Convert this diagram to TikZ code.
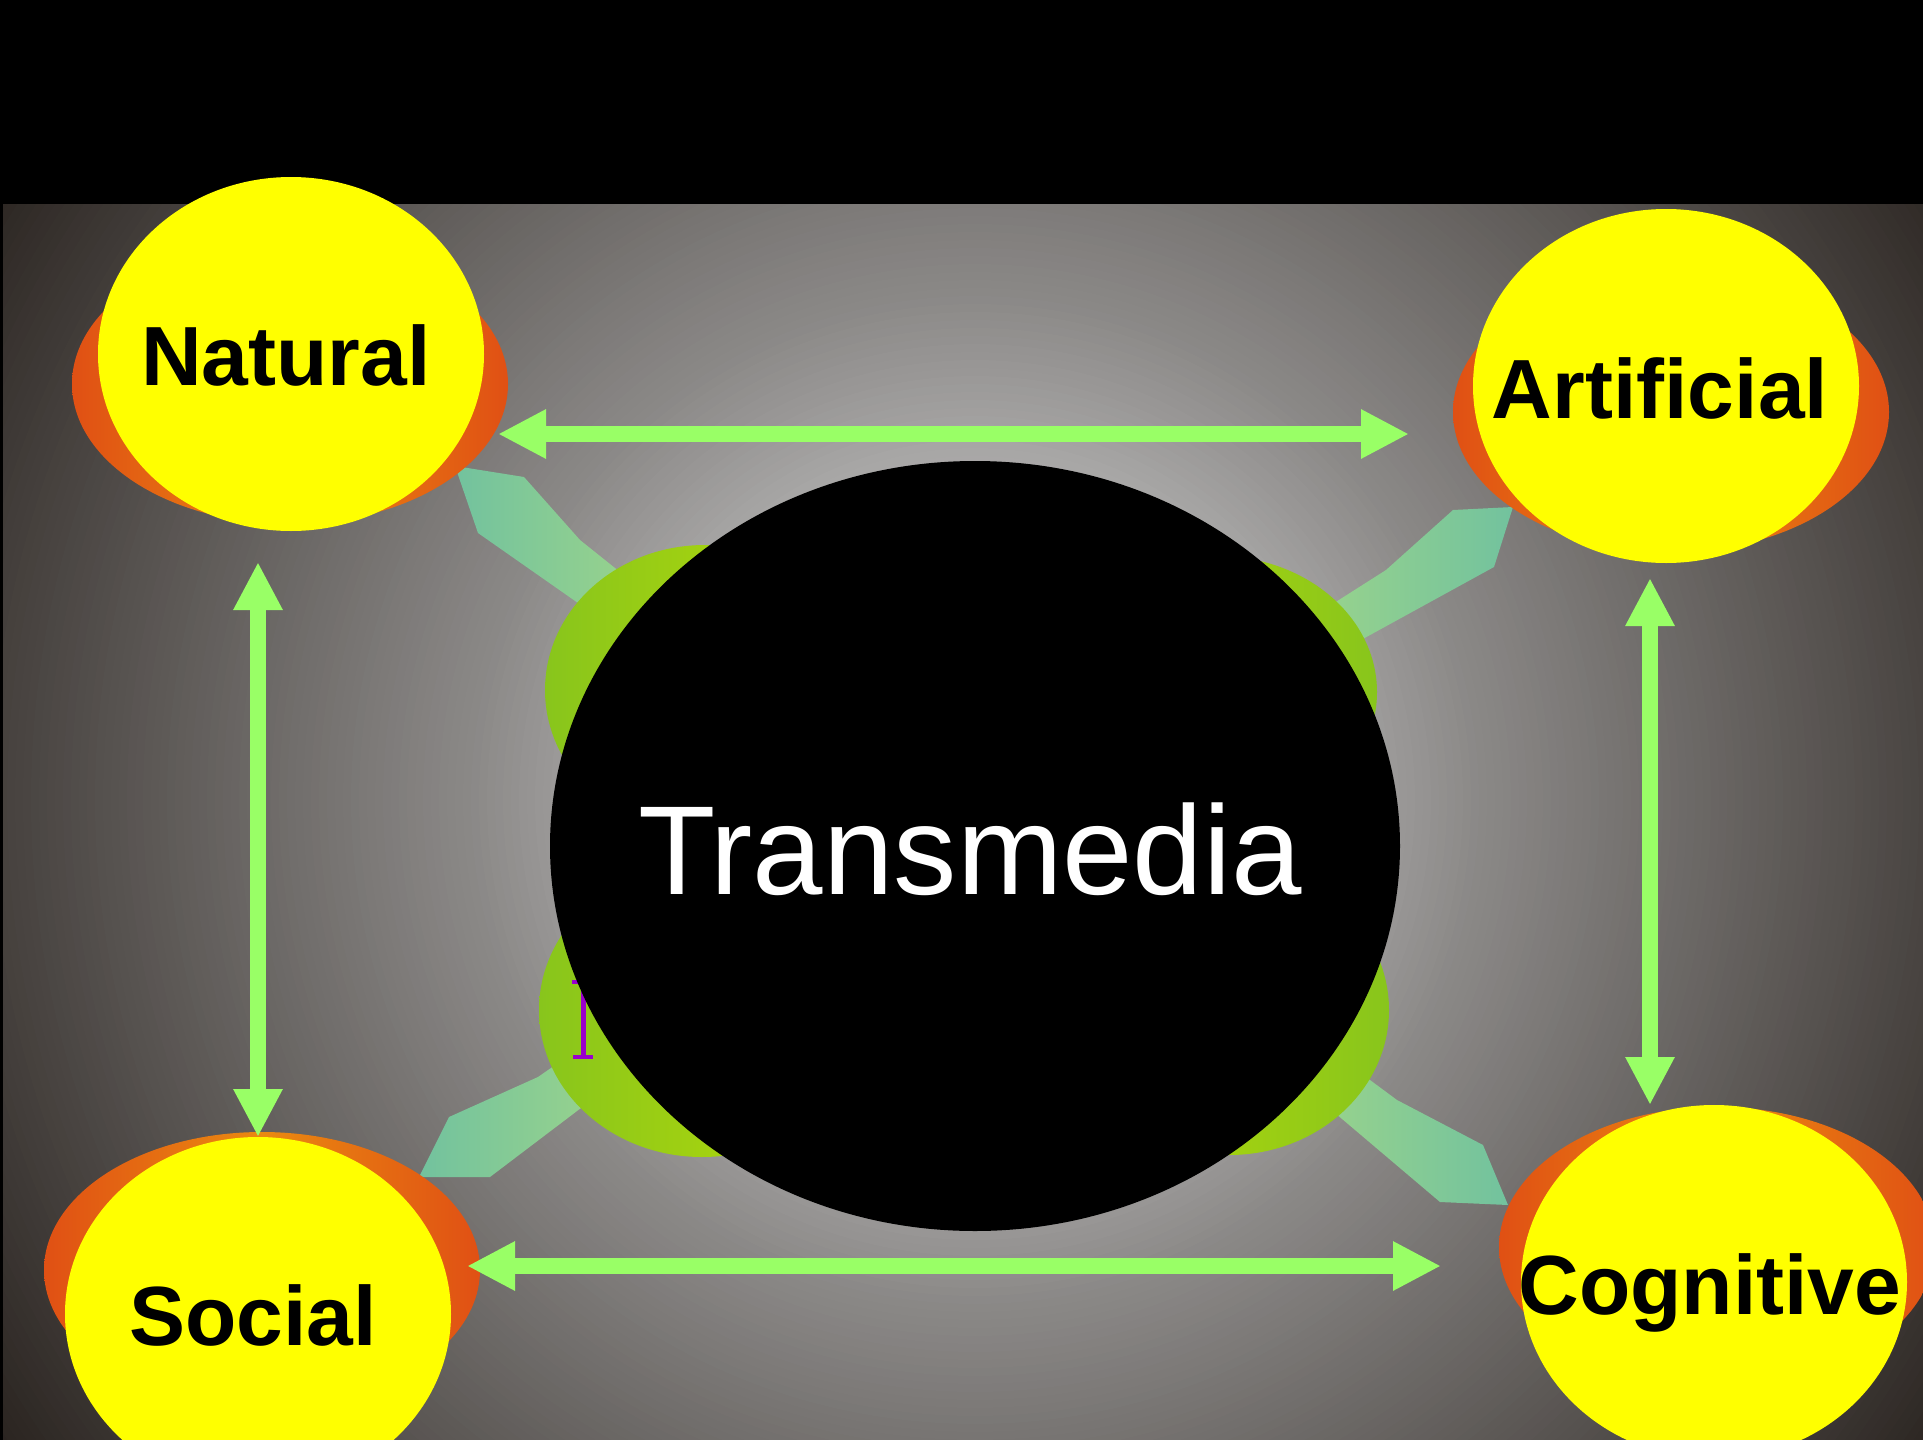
\documentclass[tikz,border=0pt]{standalone}
\usepackage{fontspec}
\setmainfont{Liberation Sans}
\usetikzlibrary{arrows.meta,shapes.geometric}

\definecolor{sunyellow}{RGB}{255,255,0}
\definecolor{arrowgreen}{RGB}{153,255,102}
\definecolor{bandteal}{RGB}{114,194,158}
\definecolor{bandlight}{RGB}{162,215,136}
\definecolor{blobdark}{RGB}{136,197,28}
\definecolor{bloblight}{RGB}{186,221,6}
\definecolor{rimred}{RGB}{224,80,20}
\definecolor{rimorange}{RGB}{234,138,16}
\definecolor{markpurple}{RGB}{154,0,204}
\definecolor{bgin}{RGB}{200,200,200}
\definecolor{bgout}{RGB}{40,34,30}

\begin{document}
\begin{tikzpicture}[x=0.5pt, y=-0.5pt, line join=round,
    place/.style={ellipse, fill=sunyellow, minimum width=193pt, minimum height=177pt, inner sep=0pt},
    word/.style={font=\fontsize{42pt}{50pt}\selectfont\bfseries, inner sep=0pt, text height=30pt, text depth=0pt},
    rim/.style={left color=rimred, right color=rimred, middle color=rimorange},
    link/.style={draw=arrowgreen, line width=8pt, >={Triangle[length=24pt, width=23pt]}, <->}]

    \useasboundingbox (0,0) rectangle (1923,1440);

    % backdrop, lighter towards the middle
    \begin{scope}
        \clip (0,204) rectangle (1923,1440);
        \foreach \r in {1256,1248,...,8} {
            \pgfmathsetmacro{\g}{\r<360 ? 200-\r*0.0917 : (\r<500 ? 167-(\r-360)*0.19 : (\r<620 ? 140-(\r-500)*0.14 : max(42,123-(\r-620)*0.147)))}
            \pgfmathsetmacro{\pc}{(\g-40)/1.6}
            \fill[bgin!\pc!bgout] (975,800) circle [radius=\r];
        }
    \end{scope}
    \fill[black] (0,0) rectangle (1923,204);
    \fill[black] (0,204) rectangle (3,1440);

    % bands from the centre out to the corners
    \shade[left color=bandteal, right color=bandlight] (455,466) -- (524,477) -- (580,540) -- (680,620) -- (640,660) -- (578,603) -- (478,533) -- cycle;
    \shade[left color=bandlight, right color=bandteal] (1513,507) -- (1494,567) -- (1361,640) -- (1300,680) -- (1270,640) -- (1331,605) -- (1386,570) -- (1453,510) -- cycle;
    \shade[left color=bandteal, right color=bandlight] (419,1177) -- (490,1177) -- (581,1108) -- (650,1060) -- (620,1020) -- (538,1077) -- (449,1117) -- cycle;
    \shade[left color=bandlight, right color=bandteal] (1300,1040) -- (1370,1080) -- (1397,1100) -- (1483,1145) -- (1508,1205) -- (1440,1202) -- (1335,1113) -- (1270,1070) -- cycle;

    % green blobs behind the centre
    \shade[left color=blobdark, right color=bloblight] (705,690) ellipse [x radius=160, y radius=145];
    \shade[left color=blobdark, right color=bloblight] (702,1010) ellipse [x radius=163, y radius=147];
    \shade[left color=bloblight, right color=blobdark] (1217,692) ellipse [x radius=160, y radius=136];
    \shade[left color=bloblight, right color=blobdark] (1229,1010) ellipse [x radius=160, y radius=145];

    % small mark on the lower left blob
    \draw[markpurple, line width=2.5pt] (583,982) -- (583,1057);
    \draw[markpurple, line width=2pt] (572,982) -- (594,982) (573,1057) -- (593,1057);

    % centre
    \node[ellipse, fill=black, minimum width=425pt, minimum height=385pt, inner sep=0pt] (trans) at (975,846) {};
    \node[text=white, font=\fontsize{63.3pt}{76pt}\selectfont, inner sep=0pt, text height=45.3pt, text depth=0pt] (translbl) at (970,849) {Transmedia};

    % rims behind the circles
    \shade[rim] (290,384) ellipse [x radius=218, y radius=140];
    \shade[rim] (1671,412) ellipse [x radius=218, y radius=140];
    \shade[rim] (262,1270) ellipse [x radius=218, y radius=138];
    \shade[rim] (1717,1247) ellipse [x radius=218, y radius=140];

    % circles
    \node[place] (nat) at (291,354) {};
    \node[place] (art) at (1666,386) {};
    \node[place] (soc) at (258,1314) {};
    \node[place] (cog) at (1714,1282) {};

    % labels
    \node[word] (natlbl) at (286,355) {Natural};
    \node[word] (artlbl) at (1660,388) {Artificial};
    \node[word] (soclbl) at (253,1315) {Social};
    \node[word] (coglbl) at (1710,1284) {Cognitive};

    % links between the circles
    \coordinate (natE) at (498,434);
    \coordinate (artW) at (1409,434);
    \coordinate (natS) at (258,562);
    \coordinate (socN) at (258,1137);
    \coordinate (artS) at (1650,578);
    \coordinate (cogN) at (1650,1105);
    \coordinate (socE) at (467,1266);
    \coordinate (cogW) at (1441,1266);
    \draw[link] (natE) -- (artW);
    \draw[link] (natS) -- (socN);
    \draw[link] (artS) -- (cogN);
    \draw[link] (socE) -- (cogW);

\end{tikzpicture}
\end{document}
